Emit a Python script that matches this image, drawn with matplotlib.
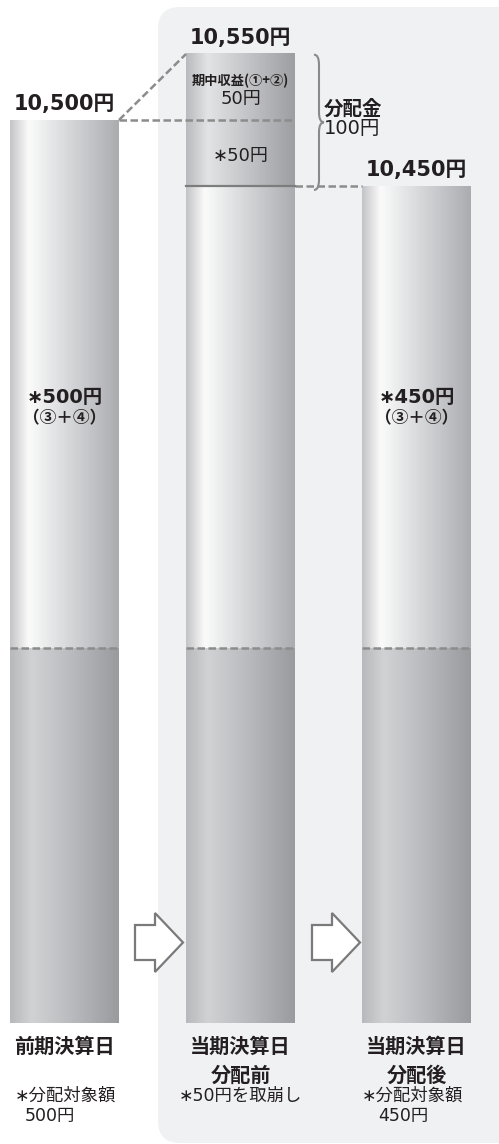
import numpy as np
import matplotlib
matplotlib.use("Agg")
import matplotlib.pyplot as plt
from matplotlib.colors import LinearSegmentedColormap
from matplotlib.patches import FancyBboxPatch, Polygon, PathPatch
from matplotlib.path import Path
from matplotlib.transforms import IdentityTransform

CJK = ['Noto Sans CJK JP', 'DejaVu Sans']
NUM = ['DejaVu Sans', 'Noto Sans CJK JP']
plt.rcParams['font.family'] = CJK

# ---------------- data ----------------
categories = ["前期決算日", "当期決算日\n分配前", "当期決算日\n分配後"]
nav_values = [10500, 10550, 10450]           # 基準価額
top_labels = ["10,500円", "10,550円", "10,450円"]
income = 50                                  # 期中収益(①+②)
drawdown = 50                                # 取崩し
distribution = income + drawdown             # 分配金 100円
distributable = [500, None, 450]             # 分配対象額
principal_line = 10100                       # schematic level of dashed line
base_value = 9816                            # schematic bar floor
inner_values = ["∗500円", None, "∗450円"]
inner_sub = "（③＋④）"
foot_heads = ["∗分配対象額", "∗50円を取崩し", "∗分配対象額"]
foot_amounts = ["500円", None, "450円"]

# ---------------- figure ----------------
W, H = 499, 1144
fig = plt.figure(figsize=(W / 100, H / 100), dpi=100)
ax = fig.add_axes([0, 0, 1, 1])
ax.set_axis_off()
ax.set_zorder(1)
ax.patch.set_visible(False)

spacing_px = 176.0
x0_px = 64.5
ax.set_xlim(-x0_px / spacing_px, (W - x0_px) / spacing_px)
px_per_yen = 1.32
y_top = nav_values[0] + 120 / px_per_yen
y_bot = nav_values[0] - (H - 120) / px_per_yen
ax.set_ylim(y_bot, y_top)

def px(x):
    return (x - x0_px) / spacing_px

def py(y):
    return nav_values[0] - (y - 120) / px_per_yen

# background panel (rounded), in pixel coordinates
panel = FancyBboxPatch((158, H - 1143), 400, 1136,
                       boxstyle="round,pad=0,rounding_size=22",
                       transform=IdentityTransform(), facecolor="#f0f1f3",
                       edgecolor="none", zorder=-5)
fig.patches.append(panel)

light = LinearSegmentedColormap.from_list("light", [
    (0.0, "#c3c4c7"), (0.17, "#fbfbfb"), (0.45, "#dfe0e2"), (1.0, "#abacb0")])
dark = LinearSegmentedColormap.from_list("dark", [
    (0.0, "#b8b9bc"), (0.2, "#d1d2d4"), (0.5, "#bebfc2"), (1.0, "#9a9b9f")])
mid = LinearSegmentedColormap.from_list("mid", [
    (0.0, "#b9babd"), (0.2, "#e2e3e5"), (0.5, "#c9cacd"), (1.0, "#9d9ea2")])

grad = np.linspace(0, 1, 256).reshape(1, -1)
bw = 109 / spacing_px

def seg(i, lo, hi, cmap):
    ax.imshow(grad, cmap=cmap, aspect="auto", interpolation="bicubic",
              extent=[i - bw / 2, i + bw / 2, lo, hi], zorder=2)

for i, top in enumerate(nav_values):
    seg(i, base_value, principal_line, dark)
    if i == 1:
        seg(i, principal_line, top - distribution, light)
        seg(i, top - distribution, top, mid)
    else:
        seg(i, principal_line, top, light)
    ax.plot([i - bw / 2, i + bw / 2], [principal_line] * 2, color="#8c8c8c",
            lw=1.8, ls=(0, (3, 1.4)), zorder=3)

dash = dict(color="#8c8c8c", lw=1.8, ls=(0, (3, 1.4)), zorder=3)
ax.plot([0 + bw / 2, 1 - bw / 2], [nav_values[0], nav_values[1]], **dash)
ax.plot([0 + bw / 2, 1 + bw / 2], [nav_values[0], nav_values[0]], **dash)
ax.plot([1 + bw / 2, 2 - bw / 2], [nav_values[2], nav_values[2]], **dash)
ax.plot([1 - bw / 2, 1 + bw / 2], [nav_values[1] - distribution] * 2,
        color="#7d7d7d", lw=1.6, zorder=3)

# brace
bx = 1 + bw / 2 + px(314) - px(295)
bx2 = bx + (px(324) - px(314))
ytop = nav_values[1] - 0.5
ybot = nav_values[1] - distribution - 3
ymid = (ytop + ybot) / 2
r = 10 / px_per_yen
hx = (bx2 - bx) / 2
verts = [(bx, ytop), (bx + hx, ytop), (bx + hx, ytop - r),
         (bx + hx, ymid + r), (bx + hx, ymid), (bx2, ymid), (bx2, ymid),
         (bx + hx, ymid), (bx + hx, ymid - r),
         (bx + hx, ybot + r), (bx + hx, ybot), (bx, ybot)]
codes = [Path.MOVETO, Path.CURVE3, Path.CURVE3, Path.LINETO, Path.CURVE3, Path.CURVE3,
         Path.MOVETO, Path.CURVE3, Path.CURVE3, Path.LINETO, Path.CURVE3, Path.CURVE3]
ax.add_patch(PathPatch(Path(verts, codes), fill=False, edgecolor="#8a8a8a",
                       lw=1.5, zorder=3))

# arrows
for ax0 in (135, 312):
    pts = [(ax0, 925), (ax0 + 20, 925), (ax0 + 20, 913), (ax0 + 48, 942.5),
           (ax0 + 20, 972), (ax0 + 20, 960), (ax0, 960)]
    ax.add_patch(Polygon([(px(a), py(b)) for a, b in pts], closed=True,
                         facecolor="white", edgecolor="#7a7a7a", lw=1.6,
                         joinstyle="miter", zorder=3))

txt = "#231f20"
# top value labels
for i, (v, lab) in enumerate(zip(nav_values, top_labels)):
    ax.text(i, v + 16 / px_per_yen, lab, ha="center", va="center",
            fontsize=15, fontweight="bold", color=txt, family=NUM, zorder=4)

# inner labels
for i, lab in enumerate(inner_values):
    if lab:
        ax.text(i, py(398), lab, ha="center", va="center", fontsize=14,
                fontweight="bold", color=txt, family=NUM, zorder=4)
        ax.text(i, py(418), inner_sub, ha="center", va="center", fontsize=12,
                fontweight="bold", color=txt, zorder=4)

ax.text(1, py(81), "期中収益(①+②)", ha="center", va="center", fontsize=9.5,
        fontweight="bold", color=txt, zorder=4)
ax.text(1, py(99), f"{income}円", ha="center", va="center", fontsize=13,
        color=txt, family=NUM, zorder=4)
ax.text(1, py(156), f"∗{drawdown}円", ha="center", va="center", fontsize=13,
        color=txt, family=NUM, zorder=4)
ax.text(px(324), py(109), "分配金", ha="left", va="center", fontsize=14,
        fontweight="bold", color=txt, zorder=4)
ax.text(px(324), py(129), f"{distribution}円", ha="left", va="center",
        fontsize=14, color=txt, family=NUM, zorder=4)

# category labels
for i, cat in enumerate(categories):
    ax.text(i, py(1036), cat, ha="center", va="top", fontsize=14.5,
            fontweight="bold", color=txt, linespacing=1.45, zorder=4)

# footers
ax.text(px(15), py(1096), foot_heads[0], ha="left", va="center", fontsize=12.5,
        color=txt, family=NUM, zorder=4)
ax.text(px(25), py(1116), foot_amounts[0], ha="left", va="center", fontsize=12.5,
        color=txt, family=NUM, zorder=4)
ax.text(1, py(1096), foot_heads[1], ha="center", va="center", fontsize=12.5,
        color=txt, family=NUM, zorder=4)
ax.text(px(362), py(1096), foot_heads[2], ha="left", va="center", fontsize=12.5,
        color=txt, family=NUM, zorder=4)
ax.text(px(378), py(1116), foot_amounts[2], ha="left", va="center", fontsize=12.5,
        color=txt, family=NUM, zorder=4)

fig.savefig("out.png", dpi=100)
